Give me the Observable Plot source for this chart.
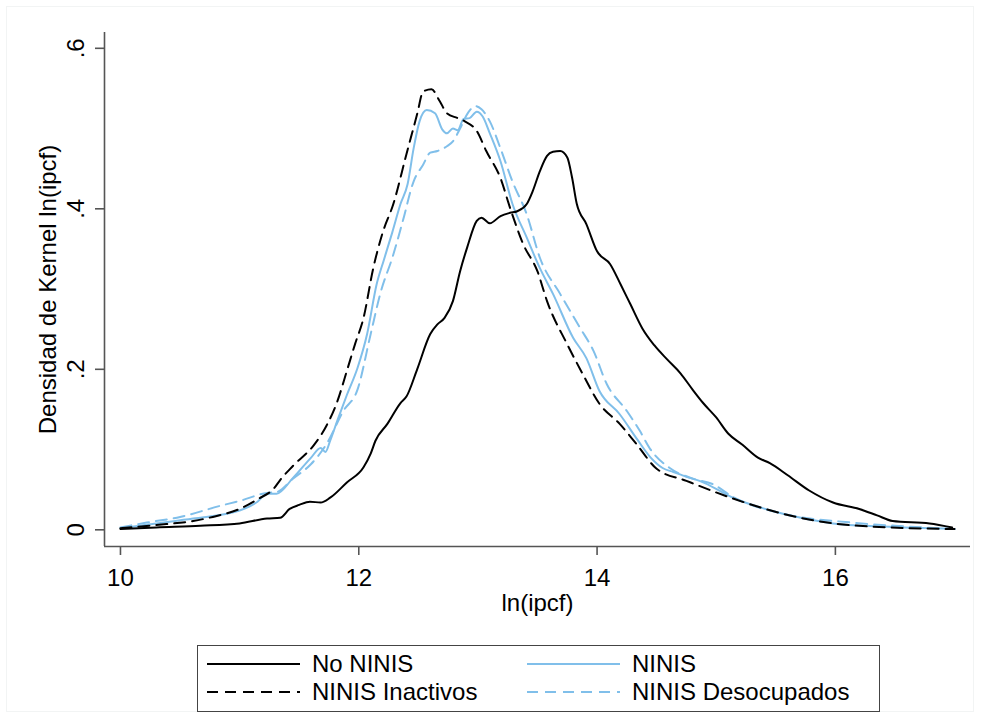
<!DOCTYPE html>
<html>
<head>
<meta charset="utf-8">
<script src="https://cdn.jsdelivr.net/npm/d3@7"></script>
<script src="https://cdn.jsdelivr.net/npm/@observablehq/plot@0.6"></script>
<style>
  html, body { margin: 0; padding: 0; background: #fff; }
  #wrap { position: relative; width: 982px; height: 719px; font-family: "Liberation Sans", Arial, sans-serif; color: #000; overflow: hidden; }
  #outer { position: absolute; left: 6px; top: 6px; width: 968px; height: 706px; border: 1px solid #f2f4f4; box-sizing: border-box; }
  #chart { position: absolute; left: 0; top: 0; }
  #legend { position: absolute; left: 197px; top: 645px; width: 683px; height: 67px; border: 1.5px solid #444; box-sizing: border-box; background: #fff; }
  .item { position: absolute; height: 26px; display: flex; align-items: center; font-size: 24px; white-space: nowrap; }
  .item svg { margin-right: 12px; }
</style>
</head>
<body>
<div id="wrap">
  <div id="outer"></div>
  <div id="chart"></div>
  <div id="legend"></div>
</div>
<script>
// ---- Data ----
const xTicks = [10, 12, 14, 16];
const yTicks = [0, 0.2, 0.4, 0.6];
const yTickLabels = ["0", ".2", ".4", ".6"];
const xTitle = "ln(ipcf)";
const yTitle = "Densidad de Kernel ln(ipcf)";
const seriesNames = ["No NINIS", "NINIS", "NINIS Inactivos", "NINIS Desocupados"];

const xNoNinis = [10.0, 10.3, 10.67, 11.0, 11.23, 11.34, 11.42, 11.5, 11.59, 11.68, 11.76, 11.9, 12.04, 12.1, 12.14, 12.24, 12.35, 12.4, 12.49, 12.6, 12.66, 12.72, 12.79, 12.85, 12.91, 12.99, 13.03, 13.1, 13.19, 13.27, 13.33, 13.41, 13.46, 13.52, 13.58, 13.63, 13.69, 13.75, 13.79, 13.83, 13.91, 14.0, 14.11, 14.2, 14.28, 14.38, 14.48, 14.59, 14.7, 14.8, 14.89, 15.0, 15.1, 15.22, 15.35, 15.45, 15.6, 15.78, 15.98, 16.2, 16.35, 16.48, 16.79, 16.98];
const yNoNinis = [0.001, 0.003, 0.005, 0.008, 0.014, 0.015, 0.026, 0.031, 0.035, 0.034, 0.040, 0.059, 0.078, 0.095, 0.111, 0.132, 0.158, 0.166, 0.200, 0.244, 0.256, 0.264, 0.285, 0.322, 0.352, 0.385, 0.389, 0.382, 0.391, 0.395, 0.397, 0.406, 0.422, 0.447, 0.466, 0.471, 0.472, 0.464, 0.439, 0.406, 0.381, 0.347, 0.331, 0.305, 0.281, 0.251, 0.230, 0.212, 0.195, 0.175, 0.158, 0.140, 0.120, 0.106, 0.090, 0.083, 0.068, 0.049, 0.034, 0.026, 0.018, 0.011, 0.008, 0.003];

const xInactivos = [10.0, 10.3, 10.61, 10.8, 11.0, 11.15, 11.29, 11.34, 11.45, 11.62, 11.73, 11.82, 11.9, 11.97, 12.04, 12.12, 12.2, 12.29, 12.4, 12.49, 12.54, 12.61, 12.68, 12.74, 12.83, 12.89, 12.99, 13.07, 13.19, 13.27, 13.38, 13.5, 13.58, 13.75, 13.88, 14.02, 14.19, 14.33, 14.5, 14.75, 15.14, 15.56, 15.98, 16.3, 17.0];
const yInactivos = [0.002, 0.006, 0.011, 0.017, 0.026, 0.038, 0.052, 0.062, 0.080, 0.105, 0.130, 0.160, 0.198, 0.232, 0.264, 0.325, 0.370, 0.406, 0.468, 0.518, 0.546, 0.549, 0.534, 0.519, 0.513, 0.509, 0.497, 0.472, 0.438, 0.401, 0.356, 0.322, 0.285, 0.231, 0.194, 0.157, 0.132, 0.107, 0.076, 0.061, 0.039, 0.020, 0.008, 0.004, 0.001];

const xNinis = [10.0, 10.3, 10.61, 11.0, 11.15, 11.23, 11.31, 11.45, 11.6, 11.68, 11.72, 11.76, 11.82, 11.9, 11.99, 12.07, 12.15, 12.21, 12.28, 12.35, 12.41, 12.46, 12.51, 12.57, 12.64, 12.7, 12.74, 12.79, 12.83, 12.88, 12.93, 12.99, 13.04, 13.1, 13.19, 13.29, 13.41, 13.52, 13.63, 13.8, 13.91, 14.02, 14.19, 14.34, 14.45, 14.55, 14.64, 14.75, 14.86, 15.14, 15.56, 15.98, 16.4, 17.0];
const yNinis = [0.002, 0.008, 0.014, 0.024, 0.035, 0.045, 0.045, 0.065, 0.090, 0.102, 0.097, 0.111, 0.136, 0.168, 0.202, 0.244, 0.306, 0.336, 0.370, 0.406, 0.431, 0.475, 0.509, 0.523, 0.519, 0.499, 0.494, 0.500, 0.498, 0.512, 0.513, 0.521, 0.515, 0.494, 0.459, 0.406, 0.364, 0.326, 0.294, 0.239, 0.214, 0.173, 0.144, 0.112, 0.090, 0.077, 0.072, 0.066, 0.061, 0.040, 0.020, 0.008, 0.004, 0.001];

const xDesocupados = [10.0, 10.22, 10.5, 10.84, 11.0, 11.23, 11.31, 11.45, 11.6, 11.73, 11.87, 11.99, 12.1, 12.18, 12.29, 12.37, 12.46, 12.54, 12.6, 12.66, 12.74, 12.79, 12.85, 12.91, 12.98, 13.03, 13.1, 13.19, 13.29, 13.41, 13.52, 13.69, 13.86, 13.97, 14.08, 14.25, 14.36, 14.44, 14.61, 14.8, 14.97, 15.14, 15.56, 16.14, 16.5, 17.0];
const yDesocupados = [0.003, 0.009, 0.016, 0.030, 0.036, 0.046, 0.047, 0.064, 0.082, 0.107, 0.148, 0.175, 0.244, 0.294, 0.343, 0.385, 0.434, 0.455, 0.470, 0.472, 0.478, 0.484, 0.500, 0.518, 0.528, 0.524, 0.509, 0.475, 0.434, 0.393, 0.339, 0.294, 0.251, 0.223, 0.182, 0.148, 0.123, 0.102, 0.077, 0.064, 0.057, 0.041, 0.020, 0.009, 0.005, 0.001];

// ---- Styling ----
const BLUE = "#80bfea";
const styles = {
  "No NINIS": {stroke: "#000", dash: null},
  "NINIS": {stroke: BLUE, dash: null},
  "NINIS Inactivos": {stroke: "#000", dash: "11,7"},
  "NINIS Desocupados": {stroke: BLUE, dash: "11,7"}
};
const seriesData = {
  "No NINIS": [xNoNinis, yNoNinis],
  "NINIS": [xNinis, yNinis],
  "NINIS Inactivos": [xInactivos, yInactivos],
  "NINIS Desocupados": [xDesocupados, yDesocupados]
};
const toRows = (name) => seriesData[name][0].map((x, i) => ({x, y: seriesData[name][1][i], s: name}));

const xDomain = [9.866, 17.134];
const yDomain = [-0.0208, 0.6197];
const AXIS = "#555";

const drawOrder = ["NINIS Desocupados", "NINIS", "NINIS Inactivos", "No NINIS"];

const chart = Plot.plot({
  width: 982,
  height: 630,
  marginLeft: 104,
  marginRight: 12,
  marginTop: 32,
  marginBottom: 84,
  style: {fontFamily: "'Liberation Sans', Arial, sans-serif", fontSize: "24px", color: "#000", background: "transparent"},
  x: {domain: xDomain},
  y: {domain: yDomain},
  marks: [
    Plot.ruleX([xDomain[0]], {stroke: AXIS, strokeWidth: 1.6}),
    Plot.ruleY([yDomain[0]], {stroke: AXIS, strokeWidth: 1.6}),
    Plot.axisX({ticks: xTicks, tickSize: 9, tickPadding: 13, tickFormat: d => String(d), label: null, stroke: AXIS, strokeWidth: 1.6, fill: "#000"}),
    Plot.axisY({ticks: yTicks, tickSize: 9, tickPadding: 12, tickRotate: -90, tickFormat: d => yTickLabels[yTicks.indexOf(d)], label: null, stroke: AXIS, strokeWidth: 1.6, fill: "#000"}),
    Plot.text([xTitle], {frameAnchor: "bottom", dy: 64, fill: "#000", fontSize: 24, textAnchor: "middle"}),
    Plot.text([yTitle], {frameAnchor: "left", dx: -56, rotate: -90, fill: "#000", fontSize: 24, textAnchor: "middle"}),
    ...drawOrder.map(name => Plot.line(toRows(name), {
      x: "x", y: "y", stroke: styles[name].stroke, strokeWidth: 2,
      strokeDasharray: styles[name].dash, curve: "monotone-x"
    }))
  ]
});
document.getElementById("chart").appendChild(chart);

// ---- Legend ----
const legend = document.getElementById("legend");
const legendPos = [
  {name: seriesNames[0], left: 9, top: 5},
  {name: seriesNames[1], left: 329, top: 5},
  {name: seriesNames[2], left: 9, top: 33},
  {name: seriesNames[3], left: 329, top: 33}
];
for (const p of legendPos) {
  const st = styles[p.name];
  const div = document.createElement("div");
  div.className = "item";
  div.style.left = p.left + "px";
  div.style.top = p.top + "px";
  div.innerHTML = `<svg width="93" height="6"><line x1="0" x2="93" y1="3" y2="3" stroke="${st.stroke}" stroke-width="2" ${st.dash ? `stroke-dasharray="11,7"` : ""}/></svg><span>${p.name}</span>`;
  legend.appendChild(div);
}
</script>
</body>
</html>
